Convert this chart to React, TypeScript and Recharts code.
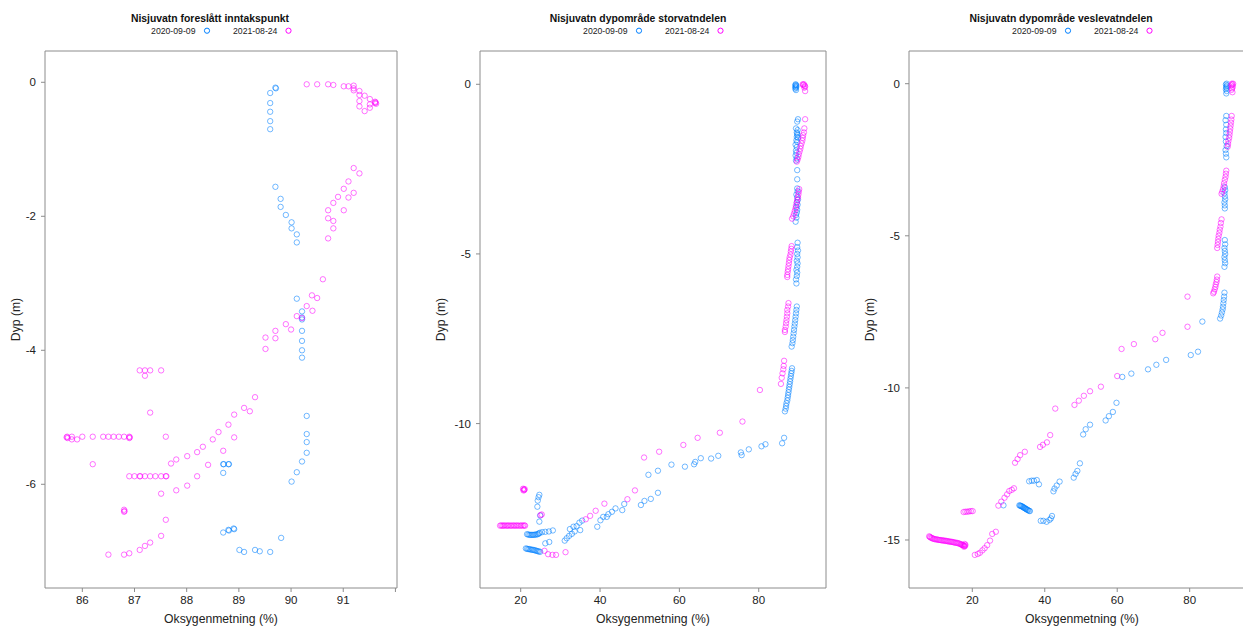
import React from 'react';
import { ScatterChart, Scatter, XAxis, YAxis } from 'recharts';

const seriesLabels = ['2020-09-09', '2021-08-24'];
const panelTitles = [
  'Nisjuvatn foreslått inntakspunkt',
  'Nisjuvatn dypområde storvatndelen',
  'Nisjuvatn dypområde veslevatndelen',
];
const xAxisTitle = 'Oksygenmetning (%)';
const yAxisTitle = 'Dyp (m)';

const p1XTicks = [86, 87, 88, 89, 90, 91, 92];
const p1YTicks = [0, -2, -4, -6];
const p2XTicks = [20, 40, 60, 80];
const p2YTicks = [0, -5, -10];
const p3XTicks = [20, 40, 60, 80];
const p3YTicks = [0, -5, -10, -15];

// Panel 1: Nisjuvatn foreslått inntakspunkt  [oxygen %, depth m]
const p1Blue: [number, number][] = [
  [89.70, -0.08], [89.71, -0.09], [89.60, -0.16], [89.60, -0.31], [89.60, -0.44], [89.60, -0.58], [89.60, -0.70],
  [89.70, -1.56], [89.80, -1.74], [89.80, -1.86], [89.90, -1.98], [90.01, -2.09], [90.01, -2.18], [90.11, -2.27], [90.11, -2.39],
  [90.11, -3.23], [90.21, -3.42], [90.21, -3.51], [90.21, -3.54], [90.21, -3.71], [90.21, -3.86], [90.21, -4.00], [90.21, -4.11],
  [90.30, -4.98], [90.30, -5.25], [90.30, -5.37], [90.30, -5.53], [90.21, -5.66], [90.11, -5.82], [90.01, -5.96],
  [88.70, -5.70], [88.71, -5.70], [88.80, -5.70], [88.81, -5.70], [88.70, -5.83],
  [88.70, -6.72], [88.80, -6.68], [88.81, -6.69], [88.91, -6.67], [88.90, -6.66], [89.81, -6.80],
  [89.01, -6.98], [89.10, -7.01], [89.31, -6.98], [89.40, -7.00], [89.60, -7.01],
];
const p1Magenta: [number, number][] = [
  [90.30, -0.03], [90.50, -0.03], [90.71, -0.03], [90.81, -0.04], [91.01, -0.06], [91.10, -0.06], [91.20, -0.05], [91.20, -0.09],
  [91.20, -0.12], [91.31, -0.13], [91.31, -0.19], [91.41, -0.20], [91.51, -0.25], [91.31, -0.28], [91.61, -0.29], [91.62, -0.30],
  [91.61, -0.31], [91.63, -0.32], [91.51, -0.33], [91.31, -0.36], [91.51, -0.38], [91.41, -0.43],
  [91.20, -1.28], [91.31, -1.36], [91.10, -1.48], [91.01, -1.59], [91.20, -1.65], [90.90, -1.71], [91.10, -1.72], [90.81, -1.80],
  [90.71, -1.91], [91.01, -1.91], [90.71, -2.03], [90.81, -2.07], [90.81, -2.18], [90.71, -2.33],
  [90.61, -2.94], [90.40, -3.18], [90.50, -3.22], [90.30, -3.34], [90.41, -3.41], [90.11, -3.49], [90.21, -3.52], [89.90, -3.61],
  [90.00, -3.69], [89.70, -3.71], [89.51, -3.81], [89.70, -3.82], [89.51, -3.98],
  [87.10, -4.30], [87.20, -4.30], [87.30, -4.30], [87.20, -4.38], [87.51, -4.30],
  [89.31, -4.70], [89.10, -4.86], [89.21, -4.91], [87.30, -4.93], [88.91, -4.96], [88.80, -5.11], [88.61, -5.22], [88.91, -5.30],
  [88.50, -5.33], [88.31, -5.44], [88.20, -5.52], [88.70, -5.50], [88.01, -5.58], [87.80, -5.63], [87.70, -5.69], [88.41, -5.71],
  [88.20, -5.88], [88.01, -6.02], [87.80, -6.09], [87.51, -6.14], [87.60, -5.29], [86.20, -5.70],
  [85.70, -5.30], [85.71, -5.29], [85.72, -5.31], [85.80, -5.29], [85.80, -5.33], [85.90, -5.33], [86.00, -5.29], [86.20, -5.29],
  [86.40, -5.29], [86.50, -5.29], [86.60, -5.29], [86.70, -5.29], [86.80, -5.29], [86.90, -5.29], [86.91, -5.30], [86.90, -5.31],
  [86.90, -5.88], [87.00, -5.88], [87.10, -5.88], [87.11, -5.88], [87.20, -5.88], [87.30, -5.88], [87.40, -5.88], [87.51, -5.88],
  [87.60, -5.88], [87.61, -5.88],
  [86.80, -6.38], [86.80, -6.41], [86.81, -6.40], [87.60, -6.53], [87.51, -6.77], [87.30, -6.87], [87.20, -6.92], [87.10, -6.98],
  [86.90, -7.03], [86.80, -7.05], [86.50, -7.05],
];

// Panel 2: Nisjuvatn dypområde storvatndelen
const p2Blue: [number, number][] = [
  [89.3, 0], [89.4, -0.02], [89.2, -0.04], [89.5, -0.05], [89.3, -0.08], [89.4, -0.10], [89.2, -0.13], [89.4, -0.17],
  [89.9, -1.03], [89.7, -1.10], [89.4, -1.30], [89.8, -1.35], [89.6, -1.42], [89.7, -1.46], [89.8, -1.50], [89.6, -1.55],
  [89.9, -1.58], [89.5, -1.65], [89.7, -1.70], [89.3, -1.78], [89.6, -1.85], [89.4, -1.95], [89.5, -2.02], [89.3, -2.10],
  [89.6, -2.18], [89.4, -2.25],
  [89.7, -2.53], [89.7, -2.80], [89.7, -3.07], [89.8, -3.15], [89.5, -3.25], [89.7, -3.33], [89.9, -3.40], [89.6, -3.48],
  [89.8, -3.55], [89.5, -3.62], [89.7, -3.70], [89.6, -3.78], [89.4, -3.85], [89.5, -3.93], [89.3, -4.05],
  [89.8, -4.67], [89.7, -4.80], [89.9, -4.90], [89.7, -5.00], [89.8, -5.10], [89.6, -5.20], [89.8, -5.28], [89.7, -5.38],
  [89.5, -5.47], [89.7, -5.55], [89.6, -5.65], [89.4, -5.75], [89.5, -5.87],
  [89.6, -6.55], [89.5, -6.65], [89.4, -6.75], [89.3, -6.85], [89.2, -6.95], [89.1, -7.05], [89.0, -7.14], [88.9, -7.24],
  [88.8, -7.34], [88.7, -7.44], [88.6, -7.54], [88.5, -7.63], [88.3, -7.73],
  [88.4, -8.37], [88.3, -8.45], [88.2, -8.52], [88.1, -8.60], [88.0, -8.68], [87.9, -8.76], [87.8, -8.84], [87.7, -8.92],
  [87.6, -9.00], [87.5, -9.08], [87.4, -9.16], [87.3, -9.24], [87.2, -9.32], [87.0, -9.40], [86.9, -9.48], [86.8, -9.56],
  [86.6, -9.64],
  [86.4, -10.42], [85.9, -10.58], [81.7, -10.61], [80.7, -10.67], [77.5, -10.76], [75.5, -10.85], [75.7, -10.93], [69.8, -10.95],
  [68.0, -11.03], [65.4, -11.02], [64.0, -11.13], [63.7, -11.20], [61.4, -11.27], [58.0, -11.21], [54.6, -11.39], [52.2, -11.51],
  [54.6, -12.04], [52.8, -12.22], [51.2, -12.28], [50.3, -12.40], [46.1, -12.37], [45.6, -12.55], [43.9, -12.50], [43.0, -12.60],
  [42.1, -12.67], [41.7, -12.75], [40.8, -12.75], [40.1, -12.85], [39.3, -13.04], [35.0, -13.14], [33.6, -13.18], [32.4, -13.11],
  [34.1, -13.02], [34.8, -12.92], [35.5, -12.86], [33.3, -13.04], [32.9, -13.25], [32.2, -13.31], [31.6, -13.38], [31.1, -13.45],
  [28.1, -13.15], [27.1, -13.18], [26.2, -13.19], [25.4, -13.20], [27.2, -13.49], [26.2, -13.53],
  [21.6, -13.26], [21.9, -13.27], [22.2, -13.28], [22.5, -13.28], [22.8, -13.28], [23.1, -13.28], [23.4, -13.28], [23.7, -13.27],
  [24.0, -13.27], [24.3, -13.26], [24.6, -13.24], [24.8, -13.22],
  [21.3, -13.68], [21.6, -13.69], [21.9, -13.70], [22.2, -13.70], [22.5, -13.71], [22.8, -13.72], [23.1, -13.72], [23.4, -13.73],
  [23.7, -13.74], [24.0, -13.75], [24.3, -13.76], [24.6, -13.77], [24.9, -13.78],
  [24.7, -12.10], [24.5, -12.17], [24.3, -12.27], [24.2, -12.45], [24.9, -12.71], [24.7, -12.89],
];
const p2Magenta: [number, number][] = [
  [91.1, 0], [91.4, 0], [91.2, -0.02], [91.6, -0.04], [91.7, -0.07], [91.5, -0.10], [91.7, -0.20],
  [91.7, -1.03], [91.5, -1.30], [91.4, -1.42], [91.2, -1.50], [91.1, -1.58], [91.0, -1.66], [90.8, -1.74], [90.6, -1.82],
  [90.5, -1.90], [90.3, -1.98], [90.1, -2.06], [90.0, -2.14], [89.8, -2.22], [89.6, -2.28],
  [90.2, -3.09], [90.1, -3.17], [90.0, -3.25], [89.9, -3.33], [89.7, -3.41], [89.6, -3.49], [89.4, -3.57], [89.3, -3.65],
  [89.1, -3.73], [88.9, -3.81], [88.7, -3.89], [88.4, -3.96],
  [88.3, -4.77], [88.2, -4.85], [88.1, -4.93], [88.0, -5.02], [87.8, -5.10], [87.7, -5.18], [87.6, -5.27], [87.5, -5.36],
  [87.4, -5.45], [87.3, -5.53], [87.2, -5.62], [87.2, -5.68],
  [87.5, -6.45], [87.4, -6.55], [87.2, -6.65], [87.2, -6.75], [87.1, -6.85], [87.0, -6.95], [86.9, -7.04], [86.8, -7.14],
  [86.6, -7.24], [86.6, -7.30],
  [86.4, -8.15], [86.3, -8.30], [86.2, -8.40], [86.0, -8.52], [85.8, -8.65], [85.6, -8.83],
  [80.3, -9.01], [75.9, -9.94], [70.2, -10.27], [64.6, -10.42], [61.0, -10.63], [54.9, -10.83], [51.1, -11.00], [48.8, -11.97],
  [46.9, -12.23], [41.1, -12.36], [38.9, -12.57], [37.5, -12.72], [36.4, -12.82], [31.3, -13.79], [28.9, -13.87], [28.0, -13.87],
  [26.9, -13.85], [26.0, -13.75], [25.0, -12.70], [25.3, -12.68],
  [20.6, -11.92], [20.8, -11.94], [20.9, -11.96], [20.7, -11.97], [21.0, -11.93],
  [14.8, -13.01], [15.1, -13.00], [15.4, -13.01], [15.7, -13.01], [16.0, -13.00], [16.4, -13.01], [16.7, -13.01], [17.0, -13.00],
  [17.4, -13.01], [17.7, -13.01], [18.1, -13.00], [18.4, -13.01], [18.8, -13.01], [19.1, -13.00], [19.5, -13.01], [19.9, -13.01],
  [20.2, -13.00], [20.6, -13.01], [20.9, -13.00], [21.1, -13.01],
];

// Panel 3: Nisjuvatn dypområde veslevatndelen
const p3Blue: [number, number][] = [
  [90.2, 0], [90.0, -0.03], [90.3, -0.06], [90.1, -0.10], [90.2, -0.14], [90.0, -0.18], [90.2, -0.24], [90.1, -0.32],
  [90.1, -1.06], [89.9, -1.20], [90.1, -1.35], [90.0, -1.50], [90.1, -1.62], [89.9, -1.75], [90.0, -1.90], [90.2, -2.05],
  [89.9, -2.18], [90.0, -2.30], [90.1, -2.42],
  [89.7, -3.40], [89.8, -3.50], [89.6, -3.60], [89.7, -3.70], [89.8, -3.80], [89.6, -3.90], [89.7, -4.00], [89.7, -4.10],
  [89.7, -5.14], [89.8, -5.28], [89.6, -5.40], [89.7, -5.50], [89.8, -5.60], [89.6, -5.70], [89.7, -5.80], [89.8, -5.90],
  [89.6, -6.02],
  [89.6, -6.87], [89.5, -7.00], [89.4, -7.11], [89.3, -7.22], [89.2, -7.33], [89.1, -7.42], [88.9, -7.52], [88.7, -7.62],
  [88.4, -7.72], [83.5, -7.82],
  [82.3, -8.81], [80.3, -8.92], [73.5, -9.08], [70.8, -9.24], [68.5, -9.39], [63.9, -9.53], [61.4, -9.64],
  [59.8, -10.49], [58.8, -10.79], [57.7, -10.93], [56.8, -11.07], [52.5, -11.21], [51.3, -11.36], [50.6, -11.53],
  [49.7, -12.48], [49.0, -12.73], [48.5, -12.83], [48.0, -12.95], [44.1, -13.08], [43.3, -13.21], [42.7, -13.31], [42.4, -13.40],
  [38.4, -13.17], [37.8, -13.03], [37.0, -13.05], [36.4, -13.05], [35.7, -13.07],
  [33.0, -13.86], [33.2, -13.87], [33.4, -13.88], [33.6, -13.89], [33.8, -13.90], [34.0, -13.92], [34.2, -13.93], [34.4, -13.95],
  [34.6, -13.96], [34.8, -13.98], [35.0, -13.99], [35.2, -14.01], [35.4, -14.02], [35.7, -14.04], [35.9, -14.05],
  [28.6, -13.86],
  [38.9, -14.37], [39.6, -14.37], [40.5, -14.40], [41.3, -14.34], [41.7, -14.29], [42.0, -14.21],
];
const p3Magenta: [number, number][] = [
  [91.6, 0], [92.0, 0], [91.8, -0.03], [91.5, -0.06], [91.9, -0.10], [91.7, -0.15], [91.6, -0.20], [91.8, -0.28],
  [91.6, -1.06], [91.5, -1.18], [91.4, -1.28], [91.3, -1.38], [91.2, -1.48], [91.1, -1.58], [91.0, -1.68], [90.9, -1.78],
  [90.7, -1.88], [90.6, -1.98], [90.5, -2.07],
  [90.1, -2.86], [90.0, -2.96], [89.9, -3.06], [89.7, -3.16], [89.5, -3.27], [89.4, -3.37], [89.2, -3.47], [89.0, -3.55],
  [88.8, -3.62],
  [88.8, -4.46], [88.6, -4.58], [88.5, -4.70], [88.3, -4.80], [88.2, -4.90], [88.0, -5.00], [87.9, -5.10], [87.8, -5.20],
  [87.7, -5.30], [87.6, -5.40],
  [87.6, -6.34], [87.5, -6.44], [87.4, -6.52], [87.2, -6.60], [87.1, -6.68], [86.9, -6.76], [86.7, -6.84], [86.5, -6.89],
  [79.4, -7.00], [79.4, -7.99],
  [72.5, -8.19], [70.5, -8.40], [64.6, -8.56], [61.2, -8.72], [60.0, -9.61], [55.5, -9.96], [52.5, -10.11], [50.8, -10.26],
  [49.4, -10.42], [48.2, -10.56], [42.9, -10.68], [41.5, -11.55], [40.6, -11.79], [39.5, -11.87], [38.7, -11.94],
  [34.5, -12.10], [33.2, -12.21], [32.5, -12.34], [31.8, -12.46],
  [31.5, -13.30], [30.9, -13.35], [30.2, -13.39], [29.6, -13.50], [28.9, -13.61], [28.0, -13.74], [27.2, -13.87],
  [26.5, -14.73], [25.5, -14.80], [24.9, -15.02], [24.1, -15.17], [23.4, -15.27], [22.8, -15.34], [22.1, -15.42], [21.5, -15.46],
  [20.7, -15.49],
  [17.6, -14.08], [18.1, -14.07], [18.6, -14.07], [19.1, -14.06], [19.6, -14.05], [20.1, -14.05],
  [8.1, -14.88], [8.3, -14.90], [8.5, -14.92], [8.8, -14.93], [9.0, -14.95], [9.3, -14.96], [9.6, -14.97], [9.9, -14.98],
  [10.2, -14.98], [10.5, -14.99], [10.8, -15.00], [11.1, -15.00], [11.4, -15.01], [11.7, -15.01], [12.0, -15.02], [12.3, -15.02],
  [12.6, -15.03], [12.9, -15.03], [13.2, -15.04], [13.5, -15.05], [13.8, -15.05], [14.1, -15.06], [14.4, -15.06], [14.7, -15.07],
  [15.0, -15.08], [15.3, -15.09], [15.6, -15.09], [15.9, -15.10], [16.2, -15.11], [16.5, -15.12], [16.8, -15.14], [17.0, -15.15],
  [17.2, -15.16], [17.4, -15.17], [17.6, -15.18], [17.8, -15.19], [18.0, -15.20], [17.9, -15.13], [17.7, -15.22], [18.1, -15.16],
];

const BLUE = '#0080ff';
const MAGENTA = '#ff00ff';
const FONT = '"Liberation Sans", Arial, Helvetica, sans-serif';
const AXIS = '#8c8c8c';

const toPts = (arr: [number, number][]) => arr.map(([x, y]) => ({ x, y }));

const ring = (color: string) => (props: any) => (
  <circle cx={props.cx} cy={props.cy} r={2.7} fill="none" stroke={color} strokeOpacity={0.55} strokeWidth={1} />
);

type PanelCfg = {
  left: number;
  width: number;
  ml: number;
  mr: number;
  yw: number;
  xDomain: [number, number];
  yDomain: [number, number];
  xTicks: number[];
  yTicks: number[];
  blue: [number, number][];
  magenta: [number, number][];
  titleX: number;
  boxCenter: number;
  yTitleX: number;
  hideX?: number;
};

const panels: PanelCfg[] = [
  { left: 0, width: 412, ml: 15, mr: 5, yw: 30, xDomain: [85.285, 92.03], yDomain: [-7.548, 0.467], xTicks: p1XTicks, yTicks: p1YTicks, blue: p1Blue, magenta: p1Magenta, titleX: 210, boxCenter: 221, yTitleX: 19.5, hideX: 92 },
  { left: 420, width: 420, ml: 25, mr: 4, yw: 35, xDomain: [9.74, 96.96], yDomain: [-14.846, 0.981], xTicks: p2XTicks, yTicks: p2YTicks, blue: p2Blue, magenta: p2Magenta, titleX: 638, boxCenter: 653, yTitleX: 445 },
  { left: 840, width: 430, ml: 34, mr: 5, yw: 35, xDomain: [2.53, 98.03], yDomain: [-16.578, 1.075], xTicks: p3XTicks, yTicks: p3YTicks, blue: p3Blue, magenta: p3Magenta, titleX: 1061, boxCenter: 1082, yTitleX: 873.5 },
];

const tickStyle = { fontSize: 11.5, fill: '#222', fontFamily: FONT };

function Panel({ cfg }: { cfg: PanelCfg }) {
  const fmt = (v: number) => (cfg.hideX !== undefined && v === cfg.hideX ? '' : String(v));
  return (
    <div style={{ position: 'absolute', left: cfg.left, top: 0 }}>
      <ScatterChart width={cfg.width} height={626} margin={{ top: 41, right: cfg.mr, bottom: 13, left: cfg.ml }}>
        <XAxis xAxisId="b" dataKey="x" type="number" domain={cfg.xDomain} ticks={cfg.xTicks} allowDataOverflow
          height={25} tickSize={4} tickMargin={4} tick={tickStyle} tickFormatter={fmt}
          axisLine={{ stroke: AXIS }} tickLine={{ stroke: AXIS }} />
        <XAxis xAxisId="t" orientation="top" type="number" domain={cfg.xDomain} ticks={cfg.xTicks} allowDataOverflow
          height={10} tickSize={4} tick={false} axisLine={{ stroke: AXIS }} tickLine={{ stroke: AXIS }} />
        <YAxis yAxisId="l" dataKey="y" type="number" domain={cfg.yDomain} ticks={cfg.yTicks} allowDataOverflow
          width={cfg.yw} tickSize={4} tickMargin={5} tick={tickStyle}
          axisLine={{ stroke: AXIS }} tickLine={{ stroke: AXIS }} />
        <YAxis yAxisId="r" orientation="right" type="number" domain={cfg.yDomain} ticks={cfg.yTicks} allowDataOverflow
          width={10} tickSize={4} tick={false} axisLine={{ stroke: AXIS }} tickLine={{ stroke: AXIS }} />
        <Scatter name={seriesLabels[0]} data={toPts(cfg.blue)} xAxisId="b" yAxisId="l" shape={ring(BLUE)} isAnimationActive={false} />
        <Scatter name={seriesLabels[1]} data={toPts(cfg.magenta)} xAxisId="b" yAxisId="l" shape={ring(MAGENTA)} isAnimationActive={false} />
      </ScatterChart>
    </div>
  );
}

function Overlay() {
  return (
    <svg width={1243} height={626} style={{ position: 'absolute', left: 0, top: 0, pointerEvents: 'none' }}>
      {panels.map((p, i) => (
        <g key={i} fontFamily={FONT}>
          <text x={p.titleX} y={22} textAnchor="middle" fontSize={10.4} fontWeight="bold" fill="#111">{panelTitles[i]}</text>
          <text x={p.boxCenter - 25.5} y={33.8} textAnchor="end" fontSize={8.7} fill="#222">{seriesLabels[0]}</text>
          <circle cx={p.boxCenter - 14} cy={30.7} r={2.6} fill="none" stroke={BLUE} strokeWidth={1} />
          <text x={p.boxCenter + 12} y={33.8} textAnchor="start" fontSize={8.7} fill="#222">{seriesLabels[1]}</text>
          <circle cx={p.boxCenter + 67.5} cy={30.7} r={2.6} fill="none" stroke={MAGENTA} strokeWidth={1} />
          <text x={p.boxCenter} y={622.5} textAnchor="middle" fontSize={12.2} fill="#222">{xAxisTitle}</text>
          <text x={p.yTitleX} y={319.5} textAnchor="middle" fontSize={12.2} fill="#222"
            transform={`rotate(-90 ${p.yTitleX} 319.5)`}>{yAxisTitle}</text>
        </g>
      ))}
    </svg>
  );
}

export default function App() {
  return (
    <div style={{ position: 'fixed', left: 0, top: 0, width: 1243, height: 626, overflow: 'hidden', background: '#fff' }}>
      {panels.map((p, i) => (
        <Panel key={i} cfg={p} />
      ))}
      <Overlay />
    </div>
  );
}
